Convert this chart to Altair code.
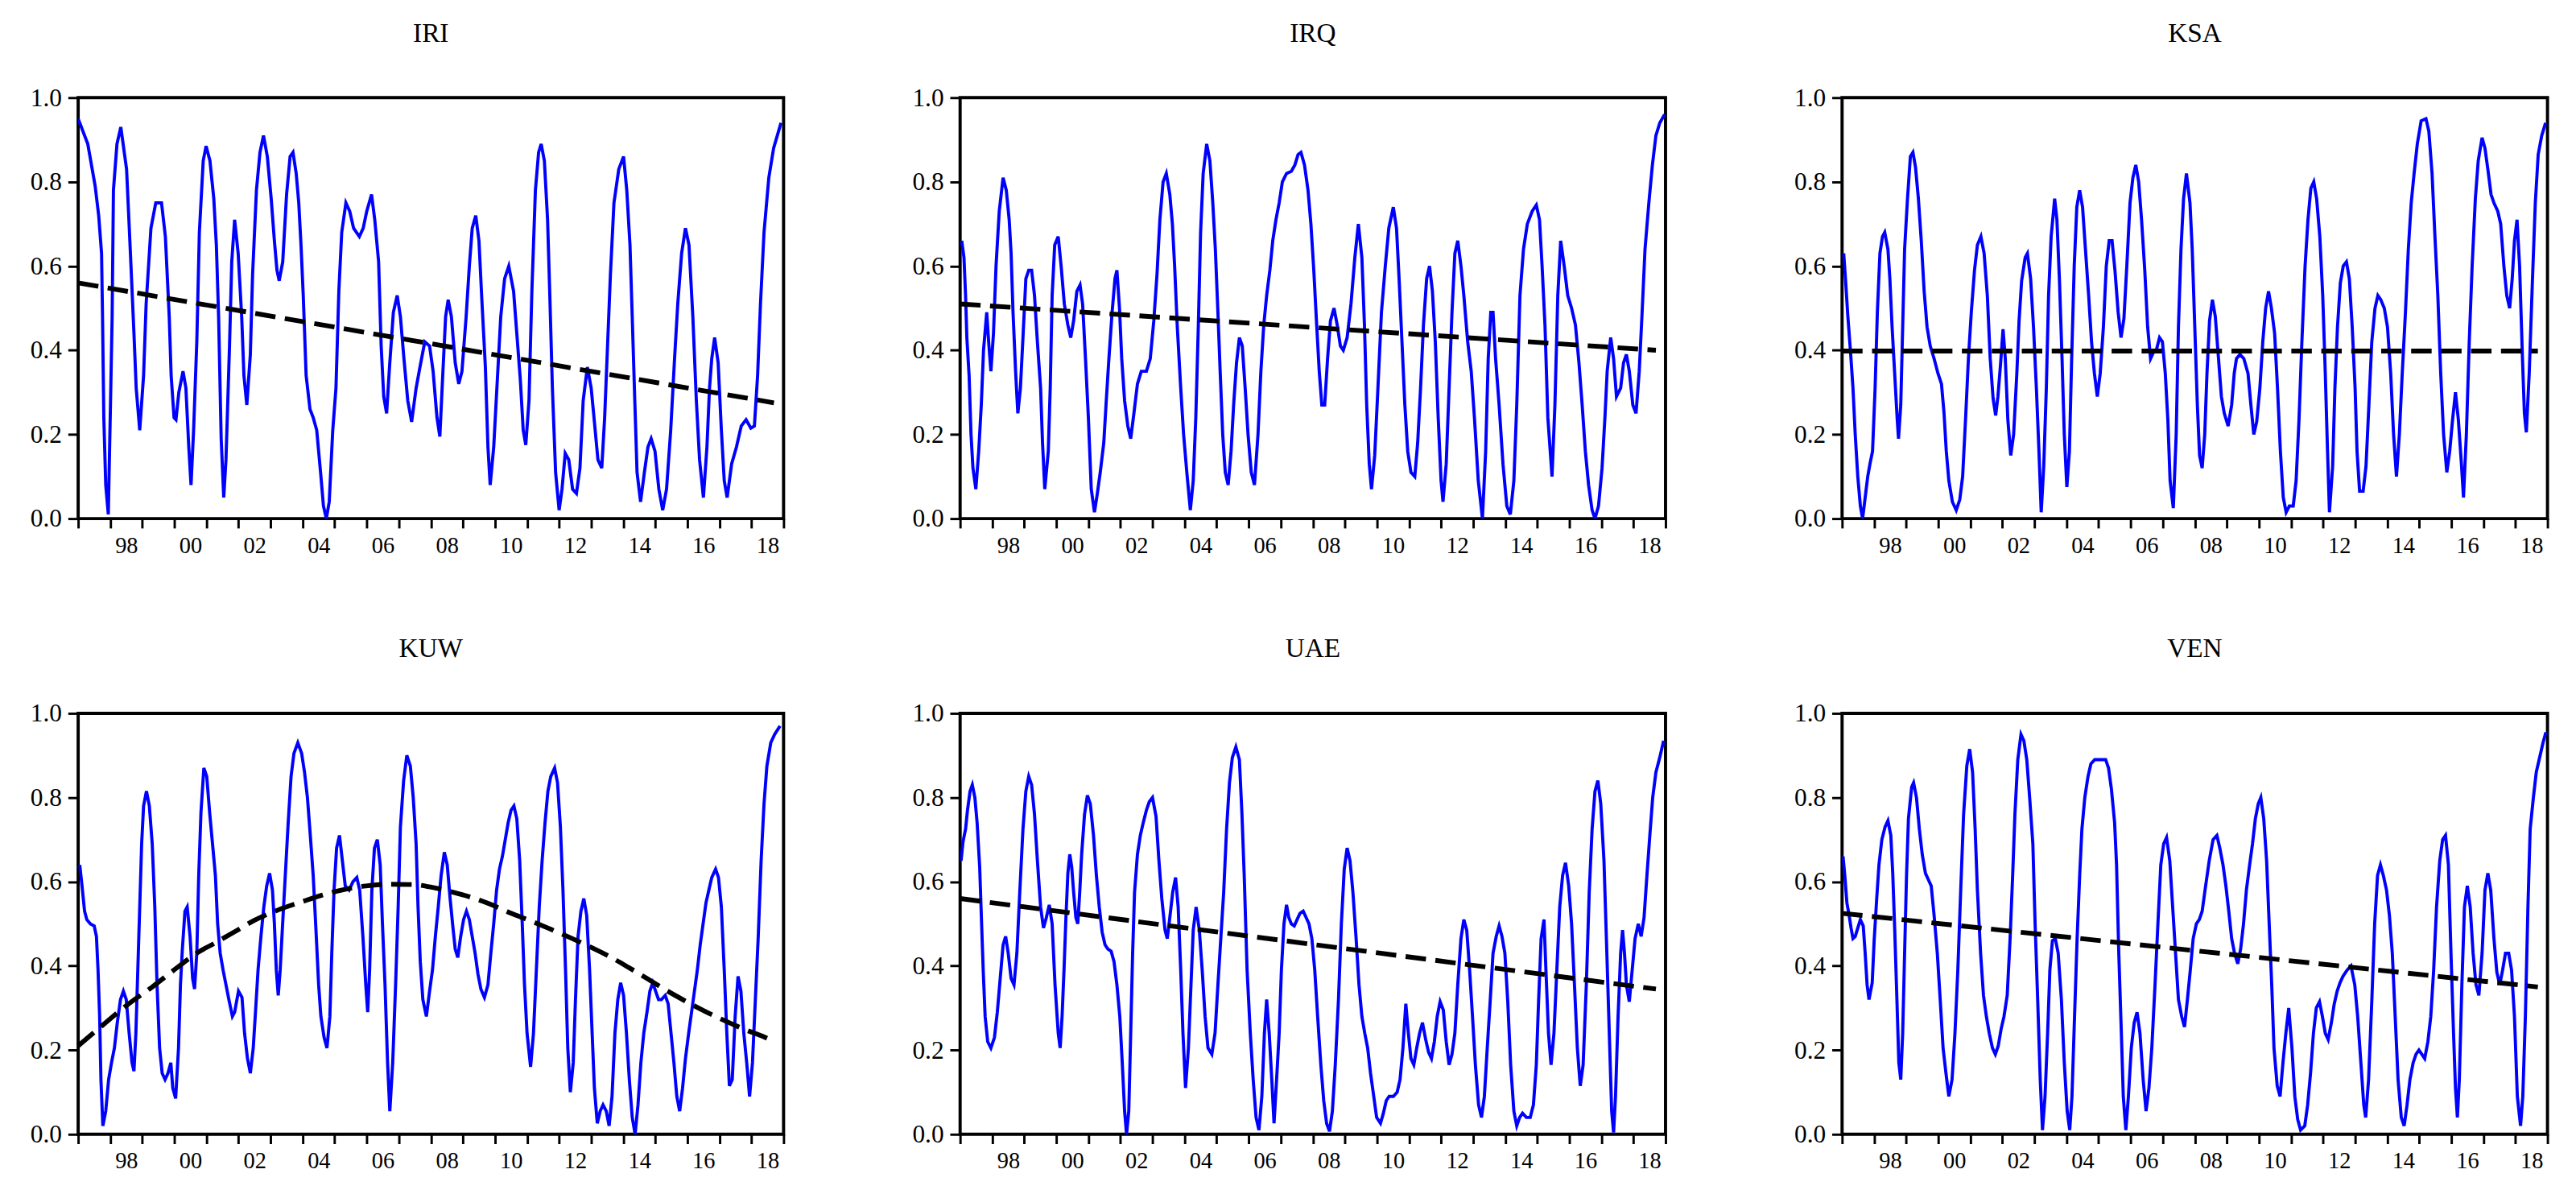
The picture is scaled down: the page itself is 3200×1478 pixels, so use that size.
import altair as alt
import pandas as pd

START_YEAR = 1997
END_YEAR = 2019
PANELS = ["IRI", "IRQ", "KSA", "KUW", "UAE", "VEN"]

# (years since Jan 1997, value)
IRI = [(0.00,0.95),(0.30,0.89),(0.53,0.79),(0.64,0.72),(0.73,0.63),(0.76,0.48),(0.80,0.24),(0.86,0.08),(0.94,0.01),
       (1.01,0.28),(1.06,0.48),(1.10,0.78),(1.21,0.89),(1.33,0.93),(1.51,0.83),(1.63,0.63),(1.74,0.44),(1.81,0.31),(1.92,0.21),
       (2.04,0.34),(2.12,0.51),(2.27,0.69),(2.42,0.75),(2.60,0.75),(2.72,0.67),(2.84,0.48),(2.90,0.34),(2.99,0.24),
       (3.05,0.235),(3.14,0.30),(3.27,0.35),(3.36,0.31),(3.45,0.17),(3.52,0.08),(3.60,0.21),(3.70,0.42),(3.78,0.68),(3.90,0.85),(3.99,0.885),
       (4.11,0.85),(4.23,0.76),(4.31,0.65),(4.38,0.48),(4.46,0.19),(4.54,0.05),(4.61,0.14),(4.72,0.41),(4.79,0.61),(4.88,0.71),(4.99,0.63),
       (5.10,0.48),(5.17,0.34),(5.26,0.27),(5.37,0.39),(5.44,0.58),(5.56,0.78),(5.67,0.87),(5.78,0.91),(5.90,0.86),
       (6.02,0.76),(6.12,0.66),(6.20,0.59),(6.27,0.565),(6.38,0.61),(6.50,0.77),(6.61,0.86),(6.70,0.87),(6.80,0.82),(6.88,0.75),(6.95,0.65),
       (7.02,0.53),(7.11,0.34),(7.23,0.26),(7.33,0.24),(7.44,0.21),(7.56,0.11),(7.65,0.03),(7.74,0.0),(7.83,0.04),(7.94,0.21),
       (8.04,0.31),(8.13,0.54),(8.22,0.68),(8.35,0.75),(8.47,0.73),(8.59,0.69),(8.77,0.67),(8.89,0.69),
       (9.00,0.73),(9.15,0.77),(9.25,0.71),(9.37,0.61),(9.45,0.41),(9.53,0.29),(9.62,0.25),(9.71,0.36),(9.83,0.49),(9.95,0.53),
       (10.05,0.48),(10.16,0.38),(10.28,0.28),(10.40,0.23),(10.54,0.31),(10.66,0.36),(10.81,0.42),(10.96,0.41),
       (11.07,0.35),(11.19,0.24),(11.28,0.195),(11.37,0.34),(11.46,0.48),(11.54,0.52),(11.64,0.48),(11.76,0.37),(11.87,0.32),(11.97,0.35),
       (12.10,0.48),(12.20,0.60),(12.29,0.69),(12.40,0.72),(12.50,0.66),(12.59,0.52),(12.70,0.36),(12.78,0.17),(12.85,0.08),(12.96,0.17),
       (13.08,0.34),(13.18,0.48),(13.30,0.57),(13.43,0.60),(13.58,0.54),(13.68,0.44),(13.79,0.33),(13.88,0.21),(13.96,0.175),
       (14.06,0.28),(14.15,0.54),(14.26,0.78),(14.36,0.87),(14.44,0.89),(14.54,0.85),(14.64,0.71),(14.71,0.53),(14.79,0.31),(14.89,0.11),
       (15.00,0.02),(15.09,0.07),(15.19,0.155),(15.30,0.14),(15.42,0.07),(15.54,0.06),(15.65,0.12),(15.75,0.28),(15.88,0.36),
       (16.00,0.31),(16.10,0.23),(16.21,0.14),(16.33,0.12),(16.42,0.24),(16.51,0.41),(16.60,0.58),(16.71,0.75),(16.86,0.83),
       (17.01,0.86),(17.11,0.78),(17.21,0.65),(17.28,0.48),(17.36,0.28),(17.43,0.11),(17.54,0.04),(17.66,0.11),(17.77,0.17),(17.87,0.19),(17.99,0.16),
       (18.11,0.07),(18.23,0.02),(18.35,0.07),(18.48,0.21),(18.60,0.38),(18.70,0.51),(18.82,0.63),(18.94,0.69),
       (19.05,0.65),(19.17,0.48),(19.28,0.28),(19.38,0.14),(19.50,0.05),(19.61,0.17),(19.69,0.31),(19.76,0.38),(19.85,0.43),(19.96,0.37),
       (20.06,0.21),(20.15,0.09),(20.24,0.05),(20.38,0.13),(20.53,0.17),(20.68,0.22),(20.83,0.235),(20.98,0.215),
       (21.09,0.22),(21.19,0.34),(21.28,0.51),(21.39,0.68),(21.54,0.81),(21.69,0.88),(21.92,0.94)]

IRQ = [(0.05,0.66),(0.12,0.62),(0.17,0.53),(0.21,0.43),(0.28,0.34),(0.34,0.20),(0.40,0.12),(0.49,0.07),(0.58,0.16),(0.66,0.27),(0.73,0.40),(0.83,0.49),(0.89,0.42),(0.96,0.35),
       (1.04,0.44),(1.12,0.60),(1.22,0.73),(1.34,0.81),(1.44,0.78),(1.53,0.71),(1.59,0.63),(1.65,0.49),(1.73,0.35),(1.80,0.25),(1.88,0.31),(1.96,0.43),
       (2.05,0.57),(2.14,0.59),(2.23,0.59),(2.32,0.53),(2.41,0.42),(2.51,0.31),(2.57,0.18),(2.64,0.07),(2.75,0.16),(2.81,0.31),(2.87,0.53),(2.95,0.65),
       (3.06,0.67),(3.15,0.60),(3.25,0.51),(3.36,0.46),(3.45,0.43),(3.54,0.47),(3.64,0.54),(3.74,0.555),(3.82,0.51),(3.91,0.38),
       (4.00,0.24),(4.09,0.07),(4.19,0.015),(4.28,0.06),(4.37,0.11),(4.48,0.18),(4.55,0.27),(4.64,0.38),(4.74,0.49),(4.83,0.57),(4.89,0.59),(4.97,0.50),
       (5.04,0.38),(5.13,0.28),(5.23,0.22),(5.32,0.19),(5.42,0.25),(5.53,0.32),(5.65,0.35),(5.81,0.35),(5.93,0.38),
       (6.04,0.47),(6.14,0.58),(6.23,0.71),(6.33,0.80),(6.43,0.82),(6.54,0.77),(6.62,0.70),(6.69,0.60),(6.77,0.46),(6.88,0.31),(6.97,0.20),
       (7.07,0.11),(7.18,0.02),(7.27,0.09),(7.35,0.24),(7.43,0.46),(7.50,0.68),(7.58,0.82),(7.69,0.89),(7.79,0.85),(7.88,0.75),(7.96,0.64),
       (8.04,0.49),(8.11,0.35),(8.19,0.20),(8.27,0.11),(8.36,0.08),(8.45,0.16),(8.53,0.27),(8.62,0.37),(8.71,0.43),(8.80,0.41),(8.89,0.31),(8.98,0.20),
       (9.08,0.11),(9.18,0.08),(9.29,0.20),(9.38,0.35),(9.47,0.46),(9.56,0.53),(9.66,0.59),(9.75,0.66),(9.85,0.71),(9.95,0.75),
       (10.05,0.80),(10.18,0.82),(10.33,0.825),(10.44,0.84),(10.54,0.865),(10.63,0.87),(10.74,0.84),(10.85,0.78),(10.94,0.70),
       (11.03,0.59),(11.12,0.46),(11.20,0.35),(11.28,0.27),(11.37,0.27),(11.46,0.38),(11.55,0.47),(11.66,0.50),(11.76,0.46),(11.86,0.41),(11.95,0.40),
       (12.07,0.43),(12.19,0.51),(12.31,0.62),(12.42,0.70),(12.53,0.62),(12.61,0.46),(12.68,0.27),(12.76,0.13),(12.83,0.07),(12.93,0.15),
       (13.03,0.31),(13.14,0.49),(13.26,0.60),(13.37,0.69),(13.51,0.74),(13.61,0.69),(13.69,0.57),(13.78,0.42),(13.87,0.27),(13.96,0.16),
       (14.06,0.11),(14.18,0.10),(14.27,0.18),(14.36,0.31),(14.45,0.46),(14.55,0.57),(14.64,0.60),(14.73,0.54),(14.82,0.42),(14.91,0.24),
       (15.00,0.09),(15.06,0.04),(15.16,0.13),(15.25,0.31),(15.34,0.49),(15.43,0.63),(15.52,0.66),(15.62,0.60),(15.71,0.53),(15.83,0.42),(15.94,0.35),
       (16.04,0.24),(16.16,0.09),(16.29,0.0),(16.39,0.16),(16.47,0.38),(16.55,0.49),(16.62,0.49),(16.70,0.38),(16.81,0.27),(16.93,0.13),
       (17.05,0.03),(17.16,0.01),(17.27,0.09),(17.36,0.27),(17.46,0.53),(17.57,0.64),(17.69,0.70),(17.84,0.73),(17.97,0.745),
       (18.07,0.71),(18.15,0.60),(18.24,0.46),(18.33,0.24),(18.46,0.10),(18.55,0.27),(18.64,0.53),(18.73,0.66),(18.84,0.60),(18.95,0.53),
       (19.07,0.50),(19.19,0.46),(19.30,0.37),(19.40,0.27),(19.50,0.16),(19.60,0.08),(19.71,0.02),(19.80,0.0),(19.91,0.03),
       (20.02,0.12),(20.11,0.24),(20.18,0.35),(20.29,0.43),(20.38,0.38),(20.47,0.29),(20.60,0.31),(20.69,0.37),(20.78,0.39),(20.87,0.35),(20.98,0.27),
       (21.08,0.25),(21.18,0.35),(21.27,0.49),(21.36,0.64),(21.48,0.75),(21.59,0.84),(21.70,0.91),(21.82,0.94),(21.97,0.96)]

KSA = [(0.05,0.63),(0.11,0.565),(0.18,0.48),(0.26,0.40),(0.34,0.31),(0.41,0.20),(0.49,0.10),(0.57,0.03),(0.64,0.0),(0.72,0.05),(0.80,0.10),(0.87,0.13),(0.95,0.16),
       (1.03,0.31),(1.10,0.49),(1.18,0.63),(1.26,0.67),(1.33,0.68),(1.43,0.64),(1.49,0.57),(1.56,0.455),(1.64,0.345),(1.72,0.235),(1.76,0.19),(1.83,0.27),(1.89,0.455),(1.95,0.64),
       (2.04,0.76),(2.13,0.86),(2.21,0.87),(2.29,0.835),(2.38,0.76),(2.47,0.66),(2.56,0.54),(2.65,0.455),(2.75,0.41),(2.87,0.38),(2.99,0.345),
       (3.10,0.32),(3.18,0.25),(3.25,0.16),(3.33,0.09),(3.44,0.04),(3.56,0.02),(3.67,0.045),(3.76,0.10),(3.85,0.235),(3.94,0.38),
       (4.03,0.49),(4.13,0.59),(4.22,0.65),(4.33,0.67),(4.43,0.63),(4.53,0.53),(4.62,0.38),(4.71,0.285),(4.79,0.245),(4.86,0.29),(4.94,0.365),
       (5.02,0.45),(5.09,0.38),(5.17,0.235),(5.26,0.15),(5.35,0.20),(5.45,0.345),(5.52,0.47),(5.60,0.565),(5.71,0.62),(5.78,0.63),(5.88,0.57),(5.97,0.455),
       (6.06,0.31),(6.14,0.16),(6.21,0.015),(6.29,0.125),(6.37,0.31),(6.44,0.53),(6.52,0.67),(6.63,0.76),(6.70,0.71),(6.78,0.565),(6.86,0.38),(6.93,0.20),
       (7.01,0.075),(7.09,0.16),(7.16,0.38),(7.24,0.60),(7.32,0.74),(7.41,0.78),(7.50,0.74),(7.59,0.64),(7.69,0.53),(7.78,0.42),(7.87,0.345),(7.96,0.29),
       (8.05,0.345),(8.15,0.455),(8.24,0.60),(8.33,0.66),(8.42,0.66),(8.51,0.59),(8.61,0.49),(8.70,0.43),(8.79,0.475),(8.88,0.60),(8.98,0.75),
       (9.07,0.81),(9.16,0.84),(9.25,0.80),(9.34,0.71),(9.44,0.59),(9.53,0.455),(9.62,0.38),(9.71,0.395),(9.80,0.40),(9.90,0.43),(9.99,0.42),
       (10.08,0.345),(10.16,0.235),(10.23,0.09),(10.33,0.025),(10.42,0.20),(10.49,0.455),(10.57,0.64),(10.65,0.76),(10.74,0.82),(10.85,0.75),(10.92,0.64),
       (11.00,0.455),(11.08,0.27),(11.15,0.15),(11.23,0.12),(11.31,0.20),(11.38,0.345),(11.46,0.47),(11.55,0.52),(11.64,0.48),(11.74,0.38),(11.83,0.29),(11.92,0.25),
       (12.04,0.22),(12.15,0.27),(12.23,0.345),(12.30,0.38),(12.41,0.39),(12.53,0.38),(12.66,0.345),(12.75,0.27),(12.84,0.20),(12.93,0.23),
       (13.03,0.31),(13.12,0.42),(13.21,0.50),(13.30,0.54),(13.39,0.50),(13.49,0.44),(13.58,0.31),(13.67,0.16),(13.76,0.05),(13.85,0.015),(13.95,0.03),
       (14.07,0.03),(14.16,0.09),(14.25,0.235),(14.34,0.42),(14.44,0.60),(14.53,0.71),(14.62,0.785),(14.71,0.80),(14.80,0.76),(14.90,0.67),(14.99,0.53),
       (15.07,0.345),(15.14,0.16),(15.20,0.015),(15.30,0.125),(15.37,0.31),(15.45,0.455),(15.54,0.56),(15.63,0.60),(15.73,0.61),(15.82,0.57),(15.91,0.455),
       (16.00,0.31),(16.06,0.16),(16.14,0.065),(16.25,0.065),(16.34,0.125),(16.43,0.27),(16.52,0.42),(16.62,0.50),(16.71,0.53),(16.80,0.52),(16.91,0.50),
       (17.01,0.455),(17.11,0.345),(17.20,0.20),(17.29,0.10),(17.38,0.20),(17.47,0.345),(17.57,0.49),(17.66,0.64),(17.75,0.75),(17.84,0.82),(17.94,0.89),
       (18.06,0.945),(18.21,0.95),(18.30,0.92),(18.40,0.82),(18.49,0.67),(18.58,0.53),(18.67,0.345),(18.76,0.20),(18.86,0.11),(18.95,0.16),
       (19.04,0.235),(19.13,0.30),(19.22,0.235),(19.32,0.125),(19.38,0.05),(19.47,0.20),(19.56,0.42),(19.65,0.60),(19.75,0.76),(19.84,0.85),(19.96,0.905),
       (20.05,0.88),(20.14,0.83),(20.24,0.77),(20.33,0.75),(20.45,0.73),(20.54,0.70),(20.64,0.60),(20.73,0.53),(20.82,0.50),(20.90,0.57),(20.97,0.66),
       (21.05,0.71),(21.13,0.60),(21.22,0.38),(21.28,0.25),(21.34,0.205),(21.43,0.345),(21.53,0.565),(21.62,0.75),(21.71,0.865),(21.82,0.91),(21.94,0.94)]

KUW = [(0.05,0.64),(0.12,0.59),(0.20,0.53),(0.27,0.51),(0.38,0.50),(0.50,0.495),(0.57,0.47),(0.62,0.39),(0.67,0.28),(0.71,0.13),(0.77,0.02),(0.86,0.055),(0.95,0.13),
       (1.04,0.17),(1.13,0.205),(1.22,0.265),(1.32,0.32),(1.41,0.34),(1.50,0.32),(1.59,0.24),(1.68,0.17),(1.74,0.15),(1.80,0.24),(1.86,0.39),(1.92,0.54),(1.98,0.69),
       (2.04,0.78),(2.13,0.815),(2.22,0.78),(2.31,0.69),(2.39,0.54),(2.46,0.355),(2.54,0.205),(2.62,0.145),(2.71,0.13),(2.80,0.145),(2.89,0.17),(2.95,0.11),
       (3.04,0.085),(3.13,0.205),(3.19,0.355),(3.25,0.44),(3.33,0.53),(3.40,0.54),(3.49,0.47),(3.57,0.37),(3.63,0.345),(3.70,0.43),(3.76,0.615),(3.83,0.765),(3.92,0.87),
       (4.01,0.85),(4.10,0.765),(4.19,0.69),(4.28,0.615),(4.35,0.50),(4.43,0.43),(4.52,0.39),(4.61,0.355),(4.70,0.32),(4.81,0.28),(4.88,0.29),
       (5.00,0.34),(5.11,0.325),(5.19,0.24),(5.28,0.18),(5.37,0.145),(5.46,0.205),(5.53,0.29),(5.61,0.39),(5.70,0.47),(5.79,0.54),(5.88,0.59),(5.97,0.62),
       (6.06,0.58),(6.12,0.50),(6.18,0.39),(6.24,0.33),(6.30,0.39),(6.37,0.49),(6.46,0.615),(6.55,0.74),(6.64,0.85),(6.73,0.905),(6.85,0.93),(6.97,0.905),
       (7.06,0.86),(7.15,0.80),(7.24,0.71),(7.33,0.615),(7.42,0.48),(7.50,0.355),(7.57,0.28),(7.67,0.23),(7.76,0.205),(7.85,0.28),(7.91,0.43),(7.98,0.58),
       (8.06,0.68),(8.15,0.71),(8.24,0.65),(8.33,0.59),(8.45,0.58),(8.57,0.60),(8.69,0.61),(8.78,0.58),(8.88,0.47),(8.97,0.355),
       (9.03,0.29),(9.09,0.39),(9.16,0.58),(9.24,0.68),(9.33,0.70),(9.42,0.64),(9.49,0.50),(9.57,0.355),(9.65,0.17),(9.72,0.055),(9.81,0.17),(9.90,0.355),(9.98,0.54),
       (10.05,0.73),(10.15,0.84),(10.25,0.90),(10.36,0.875),(10.45,0.80),(10.54,0.69),(10.60,0.54),(10.67,0.41),(10.75,0.32),(10.86,0.28),(10.96,0.34),
       (11.05,0.39),(11.14,0.47),(11.23,0.54),(11.32,0.615),(11.42,0.67),(11.51,0.64),(11.60,0.56),(11.69,0.49),(11.76,0.44),(11.84,0.42),(11.93,0.47),
       (12.02,0.51),(12.11,0.53),(12.20,0.51),(12.29,0.47),(12.38,0.43),(12.47,0.38),(12.56,0.345),(12.67,0.325),(12.78,0.355),(12.87,0.43),(12.96,0.50),
       (13.05,0.58),(13.14,0.63),(13.23,0.66),(13.32,0.70),(13.41,0.74),(13.50,0.77),(13.59,0.78),(13.68,0.75),(13.77,0.65),(13.85,0.50),(13.92,0.355),
       (14.00,0.24),(14.11,0.16),(14.20,0.24),(14.29,0.39),(14.38,0.54),(14.47,0.65),(14.56,0.74),(14.65,0.815),(14.74,0.85),(14.86,0.87),(14.95,0.835),
       (15.04,0.73),(15.12,0.58),(15.20,0.39),(15.27,0.205),(15.35,0.10),(15.44,0.17),(15.51,0.32),(15.59,0.47),(15.68,0.53),(15.77,0.56),(15.86,0.52),(15.95,0.39),
       (16.03,0.24),(16.10,0.11),(16.19,0.026),(16.28,0.055),(16.37,0.07),(16.47,0.055),(16.56,0.02),(16.65,0.09),(16.74,0.24),(16.83,0.32),(16.92,0.36),
       (17.01,0.33),(17.10,0.24),(17.19,0.13),(17.28,0.04),(17.37,0.0),(17.46,0.07),(17.55,0.17),(17.64,0.24),(17.74,0.29),(17.83,0.34),(17.92,0.36),
       (18.01,0.34),(18.10,0.32),(18.19,0.32),(18.31,0.33),(18.40,0.31),(18.49,0.24),(18.58,0.17),(18.67,0.09),(18.76,0.055),(18.85,0.11),(18.94,0.18),
       (19.04,0.24),(19.13,0.29),(19.22,0.34),(19.31,0.39),(19.40,0.45),(19.49,0.50),(19.58,0.55),(19.67,0.58),(19.76,0.61),(19.88,0.63),(19.97,0.61),
       (20.06,0.54),(20.15,0.39),(20.23,0.24),(20.31,0.115),(20.40,0.13),(20.49,0.28),(20.58,0.375),(20.67,0.34),(20.76,0.24),(20.85,0.17),(20.94,0.09),
       (21.03,0.17),(21.12,0.32),(21.21,0.47),(21.30,0.65),(21.39,0.785),(21.48,0.875),(21.60,0.93),(21.72,0.95),(21.89,0.97)]

UAE = [(0.03,0.65),(0.09,0.695),(0.17,0.725),(0.23,0.77),(0.31,0.815),(0.38,0.83),(0.46,0.80),(0.53,0.74),(0.61,0.635),(0.67,0.50),(0.72,0.39),(0.78,0.28),(0.86,0.22),(0.96,0.205),
       (1.07,0.23),(1.16,0.29),(1.25,0.37),(1.34,0.45),(1.42,0.47),(1.50,0.43),(1.59,0.37),(1.68,0.355),(1.77,0.43),(1.86,0.575),(1.96,0.725),
       (2.05,0.815),(2.14,0.85),(2.23,0.83),(2.32,0.76),(2.41,0.65),(2.51,0.54),(2.60,0.49),(2.69,0.515),(2.78,0.545),(2.87,0.50),(2.96,0.355),
       (3.06,0.24),(3.12,0.205),(3.18,0.28),(3.24,0.39),(3.30,0.515),(3.36,0.62),(3.42,0.665),(3.48,0.635),(3.54,0.575),(3.61,0.515),(3.67,0.50),(3.73,0.575),(3.79,0.665),(3.88,0.76),(3.97,0.805),
       (4.06,0.785),(4.16,0.71),(4.25,0.615),(4.34,0.54),(4.43,0.48),(4.52,0.45),(4.61,0.44),(4.71,0.435),(4.80,0.41),(4.89,0.355),(4.98,0.28),
       (5.06,0.165),(5.13,0.055),(5.19,0.0),(5.26,0.055),(5.32,0.24),(5.38,0.43),(5.44,0.575),(5.53,0.665),(5.62,0.71),(5.71,0.74),(5.81,0.77),(5.90,0.79),
       (6.00,0.80),(6.11,0.755),(6.20,0.65),(6.29,0.56),(6.39,0.485),(6.46,0.465),(6.54,0.515),(6.63,0.575),(6.72,0.61),(6.80,0.54),(6.88,0.39),(6.95,0.24),
       (7.03,0.11),(7.12,0.205),(7.20,0.355),(7.27,0.485),(7.36,0.54),(7.46,0.485),(7.55,0.39),(7.64,0.28),(7.73,0.205),(7.85,0.19),(7.95,0.24),
       (8.04,0.355),(8.13,0.465),(8.22,0.575),(8.31,0.725),(8.40,0.835),(8.49,0.895),(8.60,0.92),(8.71,0.89),(8.79,0.76),(8.86,0.615),(8.95,0.39),
       (9.05,0.24),(9.14,0.13),(9.23,0.04),(9.32,0.01),(9.41,0.09),(9.49,0.24),(9.56,0.32),(9.64,0.24),(9.72,0.13),(9.79,0.026),(9.87,0.13),(9.95,0.24),
       (10.02,0.39),(10.10,0.50),(10.18,0.545),(10.25,0.515),(10.33,0.50),(10.42,0.495),(10.51,0.51),(10.60,0.525),(10.70,0.53),(10.79,0.515),(10.88,0.50),(10.97,0.465),
       (11.06,0.39),(11.15,0.28),(11.25,0.165),(11.34,0.08),(11.43,0.026),(11.52,0.007),(11.61,0.055),(11.70,0.165),(11.80,0.32),(11.89,0.50),(11.98,0.63),
       (12.07,0.68),(12.16,0.65),(12.25,0.575),(12.35,0.465),(12.44,0.355),(12.53,0.28),(12.62,0.24),(12.71,0.205),(12.80,0.145),(12.90,0.09),(12.99,0.04),
       (13.11,0.026),(13.20,0.05),(13.29,0.08),(13.38,0.09),(13.51,0.09),(13.63,0.10),(13.72,0.13),(13.81,0.205),(13.90,0.31),(13.98,0.24),
       (14.06,0.18),(14.15,0.165),(14.24,0.205),(14.33,0.24),(14.42,0.265),(14.52,0.225),(14.61,0.195),(14.70,0.18),(14.79,0.22),(14.88,0.28),(14.97,0.315),
       (15.07,0.295),(15.16,0.22),(15.25,0.165),(15.34,0.19),(15.43,0.24),(15.52,0.355),(15.62,0.465),(15.71,0.51),(15.80,0.485),(15.89,0.39),(15.98,0.28),
       (16.07,0.165),(16.17,0.07),(16.26,0.04),(16.35,0.09),(16.44,0.205),(16.53,0.315),(16.62,0.43),(16.72,0.47),(16.81,0.495),(16.90,0.47),(16.99,0.43),
       (17.08,0.315),(17.17,0.165),(17.27,0.055),(17.36,0.02),(17.45,0.04),(17.54,0.05),(17.66,0.04),(17.78,0.04),(17.88,0.07),(17.97,0.165),
       (18.04,0.315),(18.12,0.465),(18.21,0.51),(18.27,0.39),(18.35,0.24),(18.43,0.165),(18.52,0.24),(18.61,0.39),(18.70,0.54),(18.79,0.615),(18.88,0.645),(18.98,0.59),
       (19.07,0.50),(19.16,0.355),(19.25,0.205),(19.34,0.115),(19.43,0.165),(19.53,0.355),(19.62,0.575),(19.71,0.725),(19.80,0.815),(19.89,0.84),(19.98,0.785),
       (20.08,0.65),(20.17,0.43),(20.26,0.205),(20.32,0.055),(20.38,0.004),(20.44,0.09),(20.52,0.28),(20.60,0.43),(20.66,0.485),(20.72,0.43),(20.78,0.355),(20.87,0.315),(20.96,0.39),
       (21.05,0.465),(21.15,0.50),(21.24,0.47),(21.33,0.515),(21.42,0.615),(21.51,0.71),(21.60,0.80),(21.70,0.86),(21.82,0.895),(21.94,0.935)]

VEN = [(0.03,0.66),(0.09,0.61),(0.15,0.55),(0.22,0.52),(0.28,0.49),(0.34,0.465),(0.41,0.47),(0.49,0.49),(0.57,0.51),(0.66,0.495),(0.72,0.43),(0.78,0.355),(0.84,0.32),(0.94,0.36),
       (1.00,0.46),(1.08,0.56),(1.15,0.64),(1.24,0.70),(1.34,0.73),(1.43,0.745),(1.52,0.71),(1.58,0.62),(1.64,0.49),(1.71,0.32),(1.77,0.17),(1.83,0.13),(1.89,0.24),(1.95,0.43),
       (2.01,0.615),(2.07,0.75),(2.17,0.825),(2.23,0.835),(2.32,0.80),(2.41,0.725),(2.50,0.665),(2.60,0.62),(2.69,0.605),(2.78,0.59),(2.87,0.52),(2.97,0.43),
       (3.06,0.32),(3.15,0.205),(3.24,0.145),(3.33,0.09),(3.43,0.13),(3.52,0.24),(3.61,0.39),(3.70,0.58),(3.79,0.76),(3.89,0.875),(3.98,0.915),
       (4.07,0.86),(4.15,0.725),(4.22,0.58),(4.32,0.43),(4.41,0.33),(4.50,0.28),(4.59,0.24),(4.69,0.205),(4.78,0.19),(4.87,0.21),(4.96,0.25),
       (5.05,0.28),(5.15,0.33),(5.24,0.465),(5.32,0.615),(5.39,0.76),(5.48,0.89),(5.58,0.95),(5.67,0.935),(5.76,0.89),(5.85,0.80),(5.95,0.69),
       (6.02,0.50),(6.10,0.32),(6.18,0.13),(6.25,0.01),(6.33,0.09),(6.41,0.24),(6.48,0.39),(6.56,0.46),(6.65,0.465),(6.74,0.43),(6.84,0.32),(6.93,0.17),
       (7.02,0.055),(7.10,0.01),(7.17,0.09),(7.25,0.28),(7.33,0.465),(7.41,0.615),(7.48,0.725),(7.57,0.80),(7.67,0.85),(7.76,0.88),(7.88,0.89),
       (8.07,0.89),(8.22,0.89),(8.31,0.87),(8.40,0.82),(8.50,0.74),(8.56,0.64),(8.63,0.43),(8.71,0.24),(8.77,0.09),(8.85,0.01),(8.93,0.09),
       (9.02,0.205),(9.11,0.265),(9.20,0.29),(9.29,0.24),(9.39,0.13),(9.48,0.055),(9.57,0.11),(9.66,0.205),(9.76,0.355),(9.85,0.50),(9.94,0.64),
       (10.03,0.69),(10.12,0.705),(10.22,0.65),(10.31,0.54),(10.40,0.43),(10.49,0.32),(10.59,0.28),(10.68,0.255),(10.77,0.32),(10.86,0.39),(10.95,0.465),
       (11.05,0.50),(11.14,0.51),(11.23,0.53),(11.32,0.58),(11.45,0.65),(11.57,0.70),(11.69,0.71),(11.78,0.68),(11.88,0.64),(11.97,0.59),
       (12.06,0.53),(12.15,0.465),(12.24,0.43),(12.34,0.405),(12.43,0.44),(12.52,0.50),(12.61,0.58),(12.71,0.64),(12.80,0.69),(12.89,0.75),(12.98,0.785),
       (13.06,0.80),(13.15,0.75),(13.24,0.65),(13.32,0.50),(13.40,0.355),(13.47,0.205),(13.57,0.115),(13.66,0.09),(13.75,0.17),(13.84,0.24),(13.93,0.30),
       (14.03,0.205),(14.12,0.09),(14.21,0.035),(14.30,0.01),(14.43,0.02),(14.52,0.07),(14.61,0.145),(14.70,0.24),(14.79,0.30),(14.89,0.315),(14.98,0.28),
       (15.07,0.24),(15.16,0.225),(15.26,0.265),(15.35,0.31),(15.44,0.34),(15.53,0.36),(15.62,0.375),(15.75,0.39),(15.87,0.40),(15.99,0.355),
       (16.08,0.28),(16.18,0.17),(16.27,0.07),(16.33,0.04),(16.42,0.13),(16.52,0.315),(16.61,0.50),(16.70,0.615),(16.79,0.64),(16.88,0.615),(16.98,0.58),
       (17.07,0.52),(17.16,0.43),(17.25,0.28),(17.34,0.13),(17.44,0.04),(17.53,0.02),(17.62,0.07),(17.71,0.13),(17.81,0.17),(17.90,0.19),(17.99,0.20),
       (18.08,0.19),(18.17,0.18),(18.27,0.22),(18.36,0.28),(18.45,0.39),(18.54,0.54),(18.64,0.65),(18.73,0.70),(18.82,0.71),(18.91,0.64),(18.99,0.43),
       (19.07,0.24),(19.13,0.11),(19.19,0.04),(19.25,0.13),(19.33,0.355),(19.41,0.54),(19.50,0.59),(19.59,0.54),(19.68,0.43),(19.77,0.355),(19.86,0.33),(19.96,0.43),
       (20.05,0.58),(20.14,0.62),(20.23,0.58),(20.33,0.465),(20.42,0.385),(20.51,0.355),(20.60,0.39),(20.69,0.43),(20.79,0.43),(20.88,0.39),(20.97,0.28),
       (21.06,0.09),(21.16,0.02),(21.23,0.09),(21.31,0.28),(21.39,0.54),(21.46,0.725),(21.56,0.80),(21.65,0.86),(21.74,0.89),(21.86,0.93),(21.95,0.955)]

# dashed trend lines (years since Jan 1997, value)
IRI_TREND = [(0.0, 0.56), (21.7, 0.275)]
IRQ_TREND = [(0.0, 0.51), (21.7, 0.40)]
KSA_TREND = [(0.0, 0.398), (21.7, 0.398)]
KUW_TREND = [(0.0,0.21),(0.73,0.257),(1.56,0.309),(2.31,0.350),(3.07,0.395),(3.67,0.429),(4.28,0.455),(4.88,0.481),
             (5.49,0.508),(6.24,0.533),(7.00,0.553),(7.60,0.568),(8.21,0.580),(8.97,0.590),(9.72,0.594),(10.48,0.593),
             (11.08,0.586),(11.69,0.575),(12.29,0.562),(12.90,0.545),(13.50,0.525),(14.11,0.507),(14.71,0.488),(15.32,0.468),
             (15.92,0.447),(16.53,0.424),(17.13,0.398),(17.74,0.370),(18.34,0.342),(18.95,0.316),(19.55,0.292),(20.16,0.270),
             (20.76,0.250),(21.37,0.232),(21.74,0.220)]
UAE_TREND = [(0.0, 0.56), (21.7, 0.345)]
VEN_TREND = [(0.0, 0.525), (21.7, 0.35)]

SERIES = {"IRI": IRI, "IRQ": IRQ, "KSA": KSA, "KUW": KUW, "UAE": UAE, "VEN": VEN}
TRENDS = {"IRI": IRI_TREND, "IRQ": IRQ_TREND, "KSA": KSA_TREND,
          "KUW": KUW_TREND, "UAE": UAE_TREND, "VEN": VEN_TREND}

Y_TICKS = [0.0, 0.2, 0.4, 0.6, 0.8, 1.0]
X_TICKS = list(range(START_YEAR, END_YEAR + 1))

FONT = "Liberation Serif"
PLOT_W = 895
PLOT_H = 534
HALF_YEAR_PX = PLOT_W / (END_YEAR - START_YEAR) / 2


def to_frame(pairs):
    return pd.DataFrame({"t": [START_YEAR + p[0] for p in pairs],
                         "v": [p[1] for p in pairs]})


def panel(name):
    xenc = alt.X(
        "t:Q",
        title=None,
        scale=alt.Scale(domain=[START_YEAR, END_YEAR], nice=False, zero=False),
        axis=alt.Axis(
            values=X_TICKS,
            labelExpr="(datum.value % 2 == 0 && datum.value < 2019) ? substring(toString(datum.value), 2) : ''",
            labelOffset=HALF_YEAR_PX,
            labelOverlap=False,
            labelFlush=False,
            labelFontSize=29,
            tickSize=12,
            labelPadding=8,
        ),
    )
    yenc = alt.Y(
        "v:Q",
        title=None,
        scale=alt.Scale(domain=[0, 1], nice=False, zero=False),
        axis=alt.Axis(values=Y_TICKS, format=".1f", tickSize=13, labelPadding=8,
                      labelFontSize=32, labelOverlap=False, labelFlush=False),
    )
    line = alt.Chart(to_frame(SERIES[name])).mark_line(
        color="#0000ff", strokeWidth=4, clip=True
    ).encode(x=xenc, y=yenc)
    trend = alt.Chart(to_frame(TRENDS[name])).mark_line(
        color="black", strokeWidth=6, strokeDash=[26, 12], interpolate="monotone"
    ).encode(x="t:Q", y="v:Q")
    return alt.layer(line, trend).properties(
        width=PLOT_W, height=PLOT_H,
        title=alt.TitleParams(name, font=FONT, fontSize=34, fontWeight="normal",
                              anchor="middle", offset=48, color="black"),
    )


chart = alt.concat(*[panel(n) for n in PANELS], columns=3,
                   spacing={"row": 96, "column": 138}).properties(
    padding={"left": 28, "top": 0, "right": 5, "bottom": 5},
    background="white",
).configure_view(
    stroke="black", strokeWidth=4
).configure_axis(
    domain=False, grid=False, tickColor="black", tickWidth=3,
    labelFont=FONT, labelColor="black",
)

chart.save("out.html", embed_options={"renderer": "svg", "actions": False})
